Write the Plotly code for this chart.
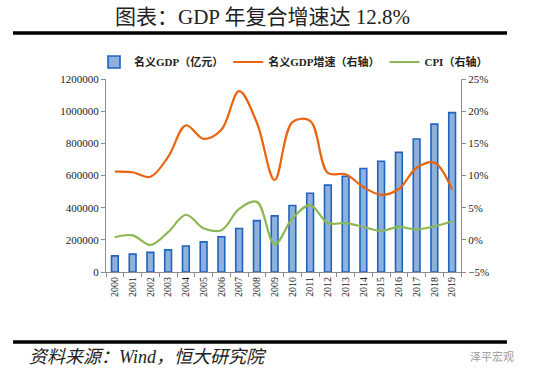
import plotly.graph_objects as go

years = [str(y) for y in range(2000, 2020)]
gdp = [100280, 110863, 121717, 137422, 161840, 187319, 219439, 270232, 319516, 349081,
       413030, 489301, 540367, 595244, 643974, 689052, 743586, 827122, 919281, 990865]
gdp_growth = [10.6, 10.5, 9.8, 12.9, 17.8, 15.7, 17.1, 23.1, 18.2, 9.3,
              18.3, 18.5, 10.4, 10.2, 8.2, 7.0, 7.9, 11.2, 12.0, 7.8]
cpi = [0.4, 0.7, -0.8, 1.2, 3.9, 1.8, 1.5, 4.8, 5.9, -0.7,
       3.3, 5.4, 2.6, 2.6, 2.0, 1.4, 2.0, 1.6, 2.1, 2.9]

serif = "Liberation Serif, Noto Sans CJK SC"
cjk = "Liberation Serif, Noto Sans CJK SC"

fig = go.Figure()
fig.add_trace(go.Bar(x=years, y=gdp, name="名义GDP（亿元）", width=0.38,
                     marker=dict(color="#8FB0DC", line=dict(color="#1F64BC", width=1.6))))
fig.add_trace(go.Scatter(x=years, y=gdp_growth, name="名义GDP增速（右轴）", yaxis="y2",
                         mode="lines", line=dict(color="#E8640E", width=2.2, shape="spline", smoothing=1.0)))
fig.add_trace(go.Scatter(x=years, y=cpi, name="CPI（右轴）", yaxis="y2",
                         mode="lines", line=dict(color="#8DB752", width=2.2, shape="spline", smoothing=1.0)))

ph = 193.0
pw = 355.0
def py(y):
    return (272 - y) / ph
def px(x):
    return (x - 106) / pw

fig.update_layout(
    width=550, height=380,
    margin=dict(l=106, r=89, t=79, b=108),
    paper_bgcolor="white", plot_bgcolor="white",
    showlegend=True,
    legend=dict(orientation="h", x=px(94), y=py(62), yanchor="middle", xanchor="left",
                font=dict(family=cjk, size=11, color="#222", weight="bold"), itemwidth=30,
                tracegroupgap=0, bgcolor="rgba(0,0,0,0)"),
    bargap=0.5,
    xaxis=dict(type="category", tickangle=-90, tickfont=dict(family=serif, size=10, color="#222"),
               showline=True, linecolor="#8c8c8c", linewidth=1, ticks="outside", ticklen=4,
               tickcolor="#8c8c8c", tickson="boundaries", showgrid=False),
    yaxis=dict(range=[0, 1200000], dtick=200000, tickformat="d", showgrid=False,
               tickfont=dict(family=serif, size=11, color="#222"),
               showline=True, linecolor="#8c8c8c", ticks="outside", ticklen=4, tickcolor="#8c8c8c",
               zeroline=False),
    yaxis2=dict(range=[-5, 25], dtick=5, ticksuffix="%", overlaying="y", side="right",
                showgrid=False, zeroline=False,
                tickfont=dict(family=serif, size=11, color="#222"),
                showline=True, linecolor="#8c8c8c", ticks="outside", ticklen=4, tickcolor="#8c8c8c"),
    shapes=[
        dict(type="line", xref="paper", yref="paper", x0=px(13), x1=px(507), y0=py(33), y1=py(33),
             line=dict(color="black", width=3.5)),
        dict(type="line", xref="paper", yref="paper", x0=px(13), x1=px(507), y0=py(342), y1=py(342),
             line=dict(color="black", width=3.5)),
    ],
    annotations=[
        dict(text="图表：GDP 年复合增速达 12.8%", xref="paper", yref="paper", x=px(262), y=py(17),
             xanchor="center", yanchor="middle", showarrow=False,
             font=dict(family=cjk, size=21, color="#222")),
        dict(text="<i>资料来源：Wind，恒大研究院</i>", xref="paper", yref="paper", x=px(27), y=py(357),
             xanchor="left", yanchor="middle", showarrow=False,
             font=dict(family=cjk, size=18, color="#222")),
        dict(text="泽平宏观", xref="paper", yref="paper", x=px(516), y=py(356),
             xanchor="right", yanchor="middle", showarrow=False,
             font=dict(family="Noto Sans CJK SC", size=11, color="#9a9a9a")),
    ],
)

fig.write_html("out.html", config={"displayModeBar": False},
               post_script="document.body.style.margin='0';document.body.style.overflow='hidden';")
